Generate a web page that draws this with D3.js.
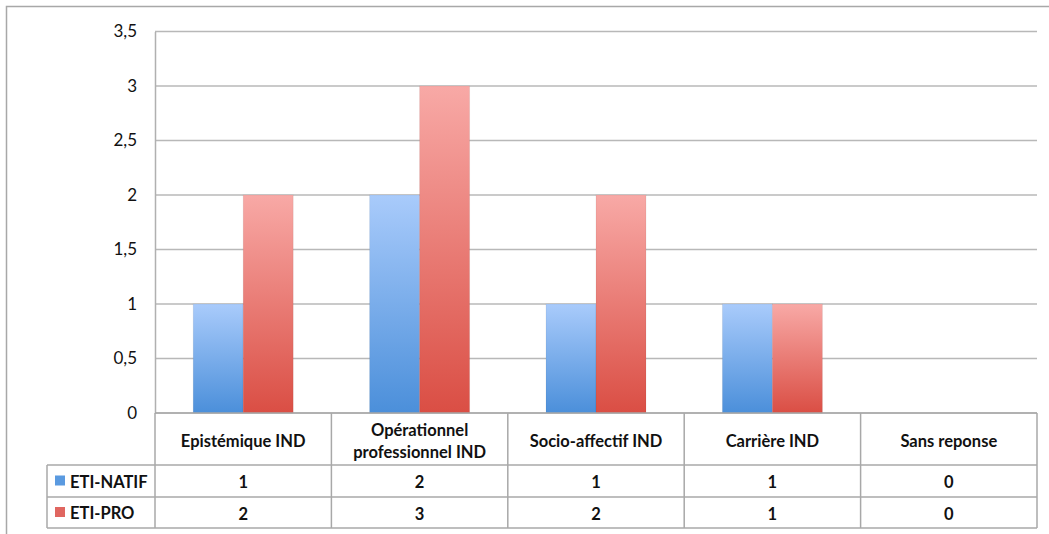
<!DOCTYPE html>
<html><head><meta charset="utf-8">
<script src="https://cdn.jsdelivr.net/npm/d3@7"></script>
<style>
html,body{margin:0;padding:0;background:#fff;}
svg{display:block;}
text{font-family:Lato,"Open Sans",sans-serif;fill:#111;}
</style></head>
<body>
<svg id="chart" width="1049" height="534"></svg>
<script>
const categories = ["Epistémique IND", "Opérationnel\nprofessionnel IND", "Socio-affectif IND", "Carrière IND", "Sans reponse"];
const seriesNames = ["ETI-NATIF", "ETI-PRO"];
const natifValues = [1, 2, 1, 1, 0];
const proValues = [2, 3, 2, 1, 0];
const yTickValues = [0, 0.5, 1, 1.5, 2, 2.5, 3, 3.5];
const yTickLabels = ["0", "0,5", "1", "1,5", "2", "2,5", "3", "3,5"];

const seriesValues = [natifValues, proValues];
const svg = d3.select("#chart");

const plot = {left: 155, right: 1037, top: 31.5, bottom: 413};
const headerBottom = 465, row1Bottom = 497, row2Bottom = 528, legendLeft = 47;
const tableFont = 16.5;

// gradients
const defs = svg.append("defs");
const grads = [
  {id: "gNatif", top: "#a9cbfb", bottom: "#4b8fda"},
  {id: "gPro", top: "#f8a9a6", bottom: "#da4e44"}
];
grads.forEach(g => {
  const lg = defs.append("linearGradient").attr("id", g.id).attr("x1", 0).attr("y1", 0).attr("x2", 0).attr("y2", 1);
  lg.append("stop").attr("offset", "0%").attr("stop-color", g.top);
  lg.append("stop").attr("offset", "100%").attr("stop-color", g.bottom);
});
const swatchColors = ["#5a9ae0", "#e06660"];

// outer frame
svg.append("rect").attr("x", 6.5).attr("y", 6.5).attr("width", 1100).attr("height", 600)
  .attr("fill", "none").attr("stroke", "#a8a8a8").attr("stroke-width", 1.5);

const x = d3.scaleBand().domain(categories).range([plot.left, plot.right]).paddingInner(0).paddingOuter(0);
const x1 = d3.scaleBand().domain(seriesNames).range([0, x.bandwidth()]).paddingInner(0).paddingOuter(0.764);
const y = d3.scaleLinear().domain([0, 3.5]).range([plot.bottom, plot.top]);

// gridlines
svg.append("g").selectAll("line").data(yTickValues).join("line")
  .attr("x1", plot.left).attr("x2", plot.right)
  .attr("y1", d => y(d)).attr("y2", d => y(d))
  .attr("stroke", "#b8b8b8").attr("stroke-width", 1.5);

// y axis
const yAxis = d3.axisLeft(y).tickValues(yTickValues).tickFormat((d, i) => yTickLabels[i]).tickSize(0).tickPadding(18);
const yg = svg.append("g").attr("transform", `translate(${plot.left},0)`).call(yAxis);
yg.select(".domain").attr("stroke", "#b0b0b0").attr("stroke-width", 1.5);
yg.selectAll("text").style("font-family", "Lato, sans-serif").style("font-size", "17px").attr("fill", "#222");

// bars
const groups = svg.append("g").selectAll("g").data(categories).join("g")
  .attr("transform", d => `translate(${x(d)},0)`);
groups.selectAll("rect").data((d, i) => seriesNames.map((s, j) => ({s, j, v: seriesValues[j][i]})))
  .join("rect")
  .attr("x", d => x1(d.s)).attr("width", x1.bandwidth())
  .attr("y", d => y(d.v)).attr("height", d => y(0) - y(d.v))
  .attr("fill", d => d.j === 0 ? "url(#gNatif)" : "url(#gPro)")
  .attr("stroke", "rgba(0,0,0,0.06)").attr("stroke-width", 1);

// table lines
const tbl = svg.append("g").attr("stroke", "#a8a8a8").attr("stroke-width", 1.5).attr("fill", "none");
const colEdges = categories.map(c => x(c)).concat([plot.right]);
colEdges.forEach(cx => tbl.append("line").attr("x1", cx).attr("x2", cx).attr("y1", plot.bottom).attr("y2", row2Bottom));
tbl.append("line").attr("x1", plot.left).attr("x2", plot.right).attr("y1", plot.bottom).attr("y2", plot.bottom);
[headerBottom, row1Bottom, row2Bottom].forEach(yy =>
  tbl.append("line").attr("x1", legendLeft).attr("x2", plot.right).attr("y1", yy).attr("y2", yy));
tbl.append("line").attr("x1", legendLeft).attr("x2", legendLeft).attr("y1", headerBottom).attr("y2", row2Bottom);

// header labels
categories.forEach(c => {
  const lines = c.split("\n");
  const cx = x(c) + x.bandwidth() / 2;
  const cy = (plot.bottom + headerBottom) / 2 + 2;
  const lh = 22;
  const t = svg.append("text").attr("text-anchor", "middle").attr("font-size", tableFont).attr("font-weight", 700);
  lines.forEach((l, k) => {
    t.append("tspan").attr("x", cx).attr("y", cy + (k - (lines.length - 1) / 2) * lh).attr("dy", "0.35em").text(l);
  });
});

// rows
const rowCenters = [(headerBottom + row1Bottom) / 2, (row1Bottom + row2Bottom) / 2];
seriesNames.forEach((s, j) => {
  const cy = rowCenters[j];
  svg.append("rect").attr("x", 55).attr("y", cy - 5.5).attr("width", 10).attr("height", 10).attr("fill", swatchColors[j]);
  svg.append("text").attr("x", 70).attr("y", cy + 1).attr("dy", "0.35em").attr("font-size", tableFont).attr("font-weight", 700).text(s);
  categories.forEach((c, i) => {
    svg.append("text").attr("x", x(c) + x.bandwidth() / 2).attr("y", cy + 1.5).attr("dy", "0.35em")
      .attr("text-anchor", "middle").attr("font-size", tableFont).attr("font-weight", 700).text(seriesValues[j][i]);
  });
});
</script>
</body></html>
